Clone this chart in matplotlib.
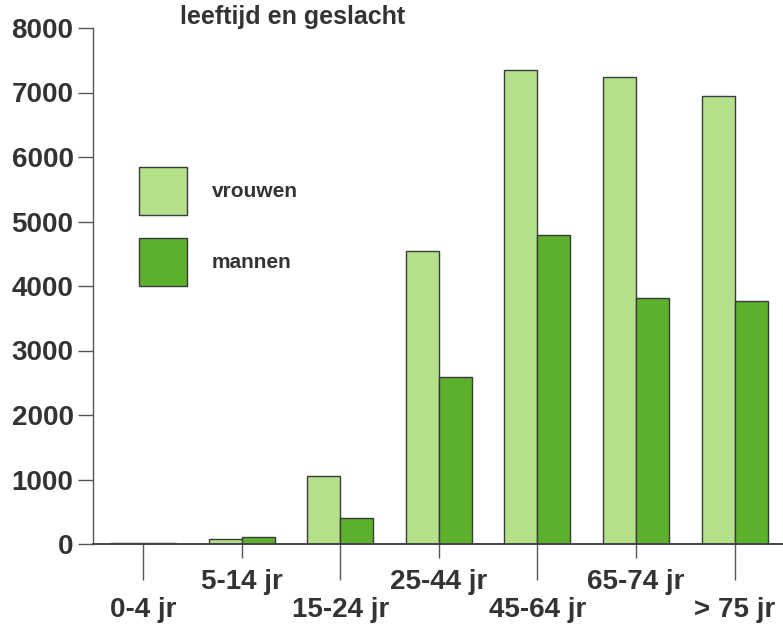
import matplotlib
matplotlib.use("Agg")
import matplotlib.pyplot as plt
from matplotlib.patches import Patch
import numpy as np

categories = ["0-4 jr", "5-14 jr", "15-24 jr", "25-44 jr", "45-64 jr", "65-74 jr", "> 75 jr"]
vrouwen = [8, 70, 1060, 4550, 7350, 7240, 6950]
mannen = [8, 110, 410, 2590, 4790, 3820, 3770]
yticks = [0, 1000, 2000, 3000, 4000, 5000, 6000, 7000, 8000]
title = "leeftijd en geslacht"
series_names = ["vrouwen", "mannen"]

light = "#b4e08a"
dark = "#5cb02c"
edge = "#3a3a3a"
txt = "#333333"

plt.rcParams['font.family'] = ['Liberation Sans', 'DejaVu Sans']
plt.rcParams['font.weight'] = 'bold'

W, H = 783, 628
fig = plt.figure(figsize=(W / 100, H / 100), dpi=100)
ax = fig.add_axes([93 / W, 84 / H, (W - 93) / W, (544 - 28) / H])

x = np.arange(len(categories))
bw = 0.335
ax.bar(x - bw / 2, vrouwen, bw, color=light, edgecolor=edge, linewidth=1.0)
ax.bar(x + bw / 2, mannen, bw, color=dark, edgecolor=edge, linewidth=1.0)

ax.set_xlim(-0.507, 6.49)
ax.set_ylim(0, 8000)

for s in ["top", "right"]:
    ax.spines[s].set_visible(False)
ax.spines["left"].set_color("#555555")
ax.spines["left"].set_linewidth(1.0)
ax.spines["bottom"].set_color("#444444")
ax.spines["bottom"].set_linewidth(1.4)

ax.set_yticks(yticks)
ax.set_yticklabels([str(v) for v in yticks], fontsize=20, fontweight='bold', color=txt)
ax.tick_params(axis='y', length=11, width=1.0, color="#555555", pad=3)

major = x[0::2]
minor = x[1::2]
ax.set_xticks(major)
ax.set_xticklabels([categories[i] for i in major], fontsize=20, fontweight='bold', color=txt)
ax.set_xticks(minor, minor=True)
ax.set_xticklabels([categories[i] for i in minor], minor=True, fontsize=20, fontweight='bold', color=txt)
ax.tick_params(axis='x', which='major', length=26, width=1.0, color="#555555", pad=12.5)
ax.tick_params(axis='x', which='minor', length=10, width=1.0, color="#555555", pad=8)

fig.text(180 / W, 1 - 17 / H, title, fontsize=18, fontweight='bold', color=txt,
         ha='left', va='center')

handles = [Patch(facecolor=light, edgecolor=edge, linewidth=1.0),
           Patch(facecolor=dark, edgecolor=edge, linewidth=1.0)]
leg = ax.legend(handles, series_names, loc='upper left',
                bbox_to_anchor=(139 / W, 1 - 167 / H), bbox_transform=fig.transFigure,
                frameon=False, borderpad=0, borderaxespad=0,
                handlelength=2.3, handleheight=3.17, handletextpad=1.2,
                labelspacing=1.1, prop={'size': 15, 'weight': 'bold'})
for t in leg.get_texts():
    t.set_color(txt)

fig.savefig("out.png", dpi=100, facecolor="white")
